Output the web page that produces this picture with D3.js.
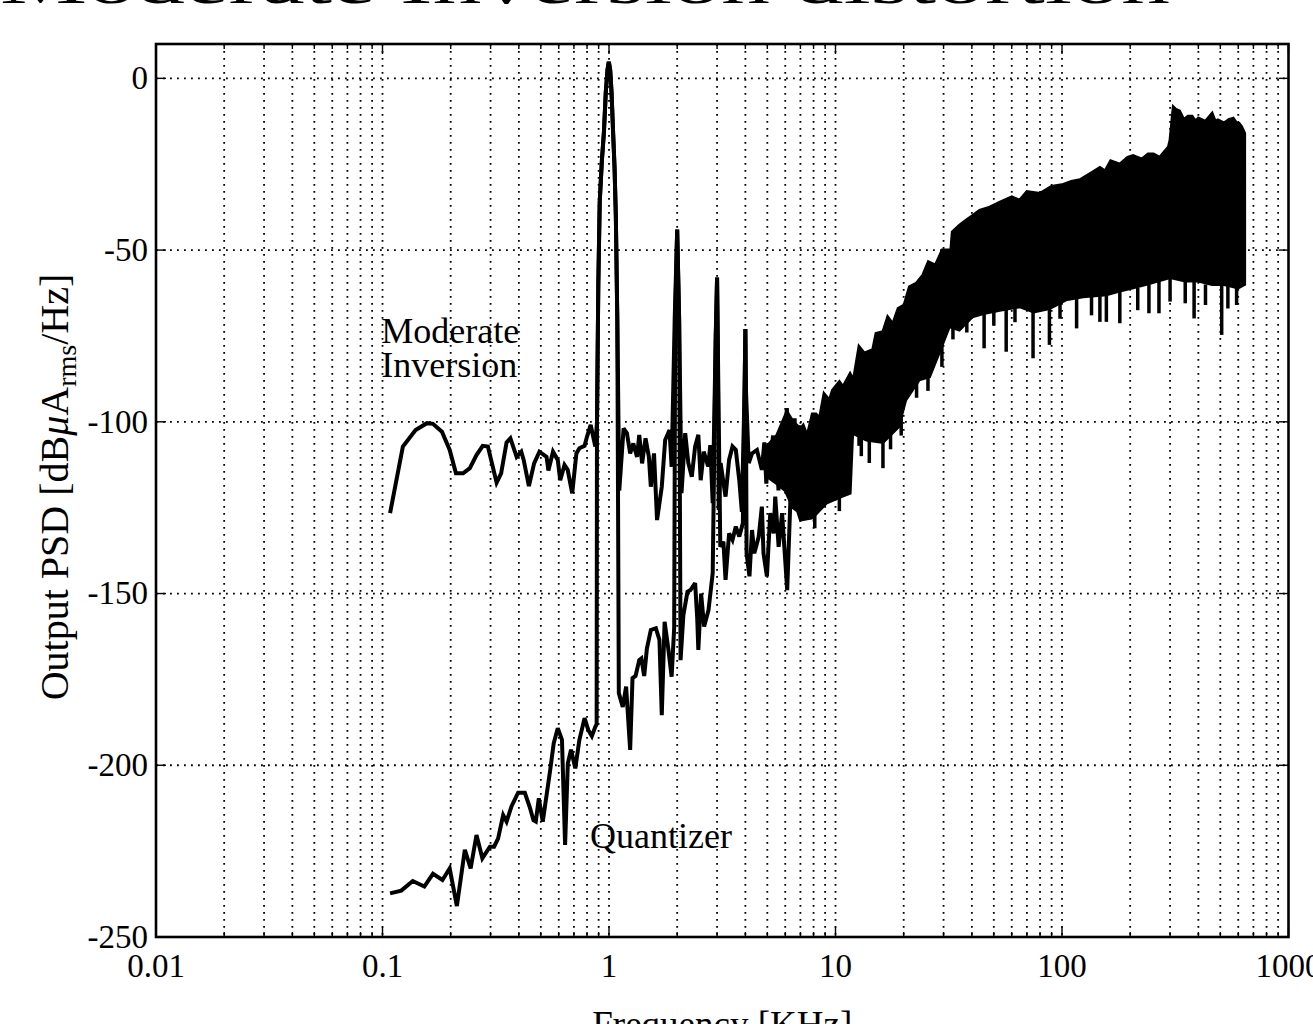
<!DOCTYPE html>
<html>
<head>
<meta charset="utf-8">
<script src="https://cdn.jsdelivr.net/npm/d3@7"></script>
<style>
  html, body { margin: 0; padding: 0; background: #fff; }
  svg { display: block; }
  text { font-family: "Liberation Serif", "DejaVu Serif", serif; fill: #000; }
</style>
</head>
<body>
<svg id="chart" width="1313" height="1024"></svg>
<script>
// ---------------- DATA ----------------
const titleText = "Moderate Inversion distortion";
const xLabelText = "Frequency [KHz]";
const xTickValues = [0.01, 0.1, 1, 10, 100, 1000];
const xTickLabels = ["0.01", "0.1", "1", "10", "100", "1000"];
const yTickValues = [-250, -200, -150, -100, -50, 0];
const yTickLabels = ["-250", "-200", "-150", "-100", "-50", "0"];
const annotations = [
  { text: "Moderate", f: 0.0988, v: -77.1 },
  { text: "Inversion", f: 0.0988, v: -87.0 },
  { text: "Quantizer", f: 0.824, v: -224.1 }
];

// Moderate inversion output PSD [kHz, dB] (resolved part, below ~7 kHz)
const moderateInversion = [
  [0.108,-126.6],[0.123,-107.2],[0.140,-102.4],[0.157,-100.4],[0.167,-100.6],[0.183,-102.9],
  [0.198,-108.2],[0.211,-115],[0.227,-115],[0.243,-113.5],[0.260,-109.7],[0.277,-107],
  [0.292,-107.2],[0.319,-117.7],[0.334,-115],[0.353,-106],[0.367,-104.8],[0.391,-110.2],
  [0.410,-108.7],[0.420,-111.1],[0.443,-118.7],[0.467,-112.1],[0.493,-108.7],[0.530,-110.2],
  [0.540,-114.2],[0.566,-108.7],[0.594,-111.1],[0.609,-117],[0.636,-112.6],[0.657,-114],
  [0.688,-120.8],[0.718,-109.2],[0.740,-107.7],[0.780,-107],[0.800,-104.3],[0.830,-100.9],
  [0.870,-107.2],[0.885,-100],[0.897,-60],
  [0.910,-36],[0.93,-24],[0.949,-16],[0.968,-4],[0.985,2.5],[0.998,4.8],[1.012,2.5],
  [1.026,-4],[1.043,-16],[1.058,-26],[1.072,-40],[1.088,-70],
  [1.11,-120],[1.16,-101.9],[1.20,-103.3],[1.24,-109.2],[1.28,-106.3],[1.33,-110.2],
  [1.36,-103.8],[1.40,-112.1],[1.45,-104.8],[1.50,-110.2],[1.53,-118.9],[1.58,-109.2],
  [1.63,-128.6],[1.71,-118.9],[1.77,-105.3],[1.85,-102.4],[1.89,-113.1],
  [1.95,-70],[2.0,-44],[2.04,-70],
  [2.09,-120.8],[2.17,-103.3],[2.24,-112],[2.32,-116],[2.40,-107.2],[2.48,-103.8],
  [2.54,-117],[2.62,-108.7],[2.74,-113],[2.80,-106.8],[2.87,-123.7],
  [2.96,-75],[3.0,-58],[3.02,-75],
  [3.05,-125.7],[3.11,-112],[3.27,-121.8],[3.39,-111.1],[3.51,-107.2],[3.63,-108.2],
  [3.76,-117],[3.86,-126.2],
  [3.97,-90],[4.0,-73],[4.02,-90],
  [4.14,-112],[4.28,-109.2],[4.50,-108.2],[4.73,-114],[4.85,-106],[4.95,-118],[5.05,-108],
  [5.15,-113],[5.3,-104],[5.4,-116],[5.5,-107],[5.6,-120],[5.7,-106],[5.85,-115],[6.0,-104],
  [6.1,-96],[6.2,-118],[6.35,-108],[6.5,-125],[6.6,-99],[6.75,-120],[6.9,-101]
];

// Quantizer output PSD [kHz, dB] (resolved part, below ~7 kHz)
const quantizer = [
  [0.108,-237.3],[0.121,-236.5],[0.136,-233.7],[0.153,-235.3],[0.167,-231.6],[0.184,-233.4],
  [0.198,-230],[0.213,-241],[0.231,-224.6],[0.245,-230],[0.260,-220.3],[0.276,-227.1],
  [0.298,-223.7],[0.311,-223.7],[0.324,-221.3],[0.341,-214.5],[0.353,-216.4],[0.371,-212],
  [0.397,-208],[0.425,-208],[0.446,-212],[0.464,-216],[0.475,-216.4],[0.490,-209.6],
  [0.510,-216.4],[0.550,-201.4],[0.570,-193.6],[0.594,-189.2],[0.620,-192.6],[0.640,-223.2],
  [0.658,-199.4],[0.680,-195.5],[0.710,-200.9],[0.740,-192.6],[0.780,-186.3],[0.810,-189.7],
  [0.840,-191.5],[0.870,-188.8],[0.882,-188],[0.885,-100],[0.897,-60],
  [0.910,-36],[0.93,-24],[0.949,-16],[0.968,-4],[0.985,2.5],[0.998,4.8],[1.012,2.5],
  [1.026,-4],[1.043,-16],[1.058,-26],[1.072,-40],[1.088,-70],
  [1.105,-179],[1.15,-183],[1.19,-177.1],[1.24,-195.5],[1.27,-174.6],[1.31,-174],[1.36,-169.4],
  [1.39,-168.9],[1.43,-174],[1.47,-166],[1.53,-160.6],[1.61,-160.1],[1.67,-163.5],[1.71,-185.4],
  [1.76,-158.2],[1.83,-166.4],[1.89,-174.2],[1.94,-160],
  [1.96,-70],[2.0,-44],[2.04,-70],
  [2.07,-169.4],[2.13,-156.3],[2.22,-149.5],[2.29,-149],[2.40,-147],[2.45,-156.7],[2.48,-166.4],
  [2.55,-150],[2.63,-159.6],[2.75,-154.8],[2.87,-144],
  [2.96,-75],[3.0,-58],[3.02,-75],
  [3.1,-136.4],[3.2,-134.9],[3.27,-146],[3.39,-132.5],[3.51,-134.4],[3.63,-130.5],[3.76,-133.4],
  [3.9,-129.5],
  [3.97,-90],[4.0,-73],[4.02,-90],
  [4.05,-138.3],[4.17,-145],[4.28,-131.5],[4.38,-138.3],[4.58,-133.5],[4.73,-124.7],[4.81,-138.3],
  [4.98,-145],[5.15,-126.6],[5.33,-132.5],[5.42,-121.8],[5.61,-136.4],[5.81,-126.6],[6.12,-149],
  [6.33,-121.8],[6.55,-117.9],[6.78,-115],[7.0,-112]
];

// Dense noise band (both curves overlap above ~5 kHz): upper and lower envelopes [kHz, dB]
const bandUpper = [
  [5.0,-107],[5.5,-104],[6.1,-97],[6.5,-100],[7.0,-102],[7.2,-101],[7.5,-104],[7.9,-97.7],
  [8.2,-97.7],[8.5,-99],[8.9,-91.8],[9.4,-93.7],[9.7,-90.8],[10.4,-88.3],[10.8,-89.8],
  [11.6,-86],[12.0,-87.8],[12.7,-78.1],[13.4,-80],[14.6,-79],[15.1,-74.3],[16.2,-73.8],
  [17.0,-69.5],[17.9,-71.5],[18.9,-67],[20.1,-66],[21.2,-60.7],[22.7,-59.7],[24.3,-57.3],
  [25.7,-53.4],[27.6,-54.4],[29.6,-50],[32.3,-50],[32.8,-44.7],[35.2,-42.8],[37.7,-41.3],
  [40.4,-39.9],[43.3,-38.4],[48.0,-37.5],[53.3,-36],[60,-34.5],[65,-35.5],[70,-33],[80,-33.5],
  [90,-31.5],[100,-31],[110,-30],[120,-29.5],[135,-27.5],[147,-26],[155,-27],[164,-24],
  [180,-25],[195,-23],[206,-22.5],[225,-23.5],[240,-22],[253,-22],[270,-23],[282,-21.5],
  [295,-20],[300,-18],[310,-8.3],[318,-9],[330,-9.5],[345,-12],[360,-11],[375,-11],
  [390,-12.5],[400,-11.6],[430,-12.5],[460,-10.2],[475,-12.5],[488,-12.1],[520,-13],
  [545,-12],[570,-11.6],[590,-13],[605,-13.1],[620,-14],[630,-15],[640,-16]
];
const bandLower = [
  [5.0,-116],[5.5,-118],[6.0,-120],[6.5,-125],[6.8,-126],[7.0,-128.6],[7.9,-128],[9.1,-123.7],
  [10.4,-122],[11.6,-120.8],[11.9,-103.3],[13.7,-105.3],[16.2,-106],[19.0,-101.4],[20.4,-93.7],
  [23.4,-87.8],[26.0,-86.9],[28.6,-80.1],[31.8,-72.3],[35.2,-73.3],[40.2,-69.4],[45,-68.5],
  [53.1,-67.5],[65.3,-66.5],[75,-68],[88,-67],[104,-64.5],[124,-63.6],[157,-63],[178,-62],
  [206,-61],[236,-60],[300,-58],[350,-59],[400,-59],[460,-60],[520,-60],[600,-61],[640,-60]
];
// Downward spikes below the band: [kHz, base dB, tip dB]
const bandSpikes = [
  [8.1,-126,-131],[10.4,-122,-126],[12.7,-100,-107],[13.0,-104,-110],[14.1,-104,-112],
  [16.2,-104,-113.5],[17.5,-102,-108],[19.5,-98,-104],[22.8,-86,-93],[25.6,-86,-91],
  [29.5,-76,-84],[33,-72,-76],[38,-70,-74],[45.3,-68,-78.6],[50,-67,-72],[56.7,-67,-79.6],
  [62,-66,-71],[74.5,-67,-81.5],[88,-66,-77.6],[98,-65,-70],[116,-64,-72.8],[135,-63,-69],
  [147,-63,-70.9],[157,-63,-70.9],[180,-62,-71.3],[216,-61,-67.5],[242,-60,-68.4],
  [268,-59,-68.4],[300,-58,-65],[350,-59,-65.5],[383,-59,-69.9],[430,-60,-66],[507,-60,-74.7],
  [540,-60,-67],[590,-61,-66]
];

// ---------------- CHART ----------------
const svg = d3.select("#chart");
const L = 156, R = 1288.5, T = 44, B = 937;
const x = d3.scaleLog().domain([0.01, 1000]).range([L, R]);
const y = d3.scaleLinear().domain([-250, 10]).range([B, T]);

// minor x ticks
const xMinor = [];
for (let d = 0; d < xTickValues.length - 1; d++)
  for (let m = 2; m <= 9; m++) xMinor.push(xTickValues[d] * m);

// title (mostly outside the image)
svg.append("text").attr("x", 585).attr("y", 3).attr("text-anchor", "middle")
  .attr("font-size", 60).attr("textLength", 1170).attr("lengthAdjust", "spacingAndGlyphs")
  .text(titleText);

// grid
const grid = svg.append("g").attr("stroke", "#000").attr("stroke-width", 1.8)
  .attr("stroke-dasharray", "1.8,5.2").attr("fill", "none");
xTickValues.concat(xMinor).forEach(v => {
  if (x(v) > L + 1 && x(v) < R - 1)
    grid.append("line").attr("x1", x(v)).attr("x2", x(v)).attr("y1", T).attr("y2", B);
});
yTickValues.forEach(v => {
  if (y(v) > T + 1 && y(v) < B - 1)
    grid.append("line").attr("x1", L).attr("x2", R).attr("y1", y(v)).attr("y2", y(v));
});

// data
const plot = svg.append("g");
const line = d3.line().x(d => x(d[0])).y(d => y(d[1]));
const bandPoly = bandUpper.concat(bandLower.slice().reverse());
plot.append("path").attr("d", line(bandPoly) + "Z")
  .attr("fill", "#000").attr("stroke", "#000").attr("stroke-width", 3).attr("stroke-linejoin", "miter")
  .attr("stroke-miterlimit", 3);
plot.selectAll("line.spike").data(bandSpikes).enter().append("line")
  .attr("x1", d => x(d[0])).attr("x2", d => x(d[0]))
  .attr("y1", d => y(d[1])).attr("y2", d => y(d[2]))
  .attr("stroke", "#000").attr("stroke-width", 3.5);
[moderateInversion, quantizer].forEach(s => {
  plot.append("path").attr("d", line(s)).attr("fill", "none")
    .attr("stroke", "#000").attr("stroke-width", 4).attr("stroke-linejoin", "miter")
    .attr("stroke-miterlimit", 3);
});

// frame
svg.append("rect").attr("x", L).attr("y", T).attr("width", R - L).attr("height", B - T)
  .attr("fill", "none").attr("stroke", "#000").attr("stroke-width", 2.6);

// ticks
const tk = svg.append("g").attr("stroke", "#000").attr("stroke-width", 1.4);
xTickValues.forEach(v => {
  tk.append("line").attr("x1", x(v)).attr("x2", x(v)).attr("y1", B).attr("y2", B - 10);
  tk.append("line").attr("x1", x(v)).attr("x2", x(v)).attr("y1", T).attr("y2", T + 10);
});
xMinor.forEach(v => {
  tk.append("line").attr("x1", x(v)).attr("x2", x(v)).attr("y1", B).attr("y2", B - 5);
  tk.append("line").attr("x1", x(v)).attr("x2", x(v)).attr("y1", T).attr("y2", T + 5);
});
yTickValues.forEach(v => {
  tk.append("line").attr("x1", L).attr("x2", L + 10).attr("y1", y(v)).attr("y2", y(v));
  tk.append("line").attr("x1", R).attr("x2", R - 10).attr("y1", y(v)).attr("y2", y(v));
});

// tick labels
xTickValues.forEach((v, i) => {
  svg.append("text").attr("x", x(v)).attr("y", 977).attr("text-anchor", "middle")
    .attr("font-size", 33).text(xTickLabels[i]);
});
yTickValues.forEach((v, i) => {
  svg.append("text").attr("x", 148).attr("y", y(v)).attr("dy", "0.33em").attr("text-anchor", "end")
    .attr("font-size", 33).text(yTickLabels[i]);
});

// axis labels
svg.append("text").attr("x", (L + R) / 2).attr("y", 1037).attr("text-anchor", "middle")
  .attr("font-size", 37).text(xLabelText);
const yl = svg.append("text").attr("transform", "translate(68,487) rotate(-90)")
  .attr("text-anchor", "middle").attr("font-size", 40);
yl.append("tspan").text("Output PSD [dB");
yl.append("tspan").attr("font-style", "italic").text("μ");
yl.append("tspan").text("A");
yl.append("tspan").attr("dy", 8).attr("font-size", 28).text("rms");
yl.append("tspan").attr("dy", -8).text("/Hz]");

// annotations
annotations.forEach(a => {
  svg.append("text").attr("x", x(a.f)).attr("y", y(a.v)).attr("font-size", 36).text(a.text);
});
</script>
</body>
</html>
